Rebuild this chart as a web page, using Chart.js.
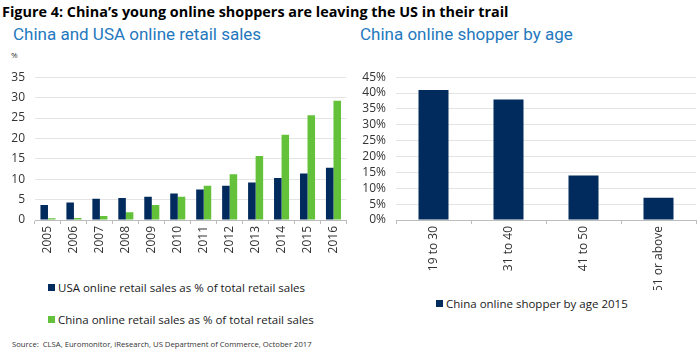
<!DOCTYPE html>
<html>
<head>
<meta charset="utf-8">
<script src="https://cdn.jsdelivr.net/npm/chart.js@4"></script>
<style>
  body { margin: 0; background: #fff; }
  #page { position: relative; width: 700px; height: 350px; overflow: hidden; font-family: "Open Sans", sans-serif; }
  .txt { position: absolute; white-space: nowrap; line-height: 1; }
  #title { left: 2px; top: 2px; font: bold 14.4px "Open Sans", sans-serif; color: #000; }
  .sub { top: 24px; font: 17px Roboto, sans-serif; color: #2478bd; }
  .leg { font-size: 11.5px; color: #1a1a1a; }
  .leg i { display: inline-block; width: 7px; height: 7px; margin-right: 3px; vertical-align: 1px; }
  .box { position: absolute; }
</style>
</head>
<body>
<div id="page">
  <div class="txt" id="title">Figure 4: China’s young online shoppers are leaving the US in their trail</div>
  <div class="txt sub" style="left:13px">China and USA online retail sales</div>
  <div class="txt sub" style="left:360px">China online shopper by age</div>
  <div class="txt" style="left:11px; top:51px; font-size:8px; color:#333">%</div>

  <div class="box" style="left:0; top:60px; width:350px; height:200px"><canvas id="salesChart" width="350" height="200"></canvas></div>
  <div class="box" style="left:350px; top:60px; width:350px; height:230px"><canvas id="ageChart" width="350" height="230"></canvas></div>

  <div class="txt leg" style="left:48px; top:282px"><i style="background:#002b5c"></i>USA online retail sales as % of total retail sales</div>
  <div class="txt leg" style="left:48px; top:314px"><i style="background:#64c23a"></i>China online retail sales as % of total retail sales</div>
  <div class="txt leg" style="left:436px; top:298px"><i style="background:#002b5c"></i>China online shopper by age 2015</div>

  <div class="txt" style="left:12px; top:341px; font-size:7.7px; color:#333">Source:&nbsp; CLSA, Euromonitor, iResearch, US Department of Commerce, October 2017</div>
</div>

<script>
// data
const years = ['2005', '2006', '2007', '2008', '2009', '2010', '2011', '2012', '2013', '2014', '2015', '2016'];
const usaShare = [3.7, 4.3, 5.2, 5.4, 5.7, 6.5, 7.5, 8.4, 9.2, 10.3, 11.4, 12.8];
const chinaShare = [0.4, 0.5, 1.0, 1.9, 3.7, 5.7, 8.4, 11.2, 15.7, 20.9, 25.7, 29.2];

const ageGroups = ['19 to 30', '31 to 40', '41 to 50', '51 or above'];
const shopperShare = [41, 38, 14, 7];

const salesMax = 35;
const ageMax = 45;

const NAVY = '#002b5c';
const GREEN = '#64c23a';
const GRID = '#e4e4e4';
const AXIS = '#bdbdbd';
const TEXT = '#333';

Chart.defaults.font.family = '"Open Sans", sans-serif';
Chart.defaults.color = TEXT;

function xAxis(height) {
    return {
        grid: { drawOnChartArea: false, drawTicks: true, tickLength: 4, color: AXIS },
        border: { color: AXIS },
        ticks: { minRotation: 90, maxRotation: 90, padding: 2, font: { size: 12 }, color: TEXT, autoSkip: false },
        afterFit(scale) { scale.height = height; }
    };
}

function yAxis(max, width, fmt) {
    return {
        min: 0,
        max: max,
        grid: { color: GRID, drawTicks: false },
        border: { display: false },
        ticks: { stepSize: 5, autoSkip: false, padding: 10, font: { size: 12 }, color: TEXT, callback: fmt },
        afterFit(scale) { scale.width = width; }
    };
}

new Chart(document.getElementById('salesChart'), {
    type: 'bar',
    data: {
        labels: years,
        datasets: [
            { label: 'USA online retail sales as % of total retail sales', data: usaShare, backgroundColor: NAVY, categoryPercentage: 0.58, barPercentage: 1.0 },
            { label: 'China online retail sales as % of total retail sales', data: chinaShare, backgroundColor: GREEN, categoryPercentage: 0.58, barPercentage: 1.0 }
        ]
    },
    options: {
        responsive: false,
        animation: false,
        layout: { padding: { top: 11, right: 3, left: 0, bottom: 0 } },
        plugins: { legend: { display: false }, tooltip: { enabled: false } },
        scales: {
            x: xAxis(40),
            y: yAxis(salesMax, 35, v => v)
        }
    }
});

new Chart(document.getElementById('ageChart'), {
    type: 'bar',
    data: {
        labels: ageGroups,
        datasets: [
            { label: 'China online shopper by age 2015', data: shopperShare, backgroundColor: NAVY, categoryPercentage: 1.0, barPercentage: 0.4 }
        ]
    },
    options: {
        responsive: false,
        animation: false,
        layout: { padding: { top: 11, right: 4, left: 0, bottom: 0 } },
        plugins: { legend: { display: false }, tooltip: { enabled: false } },
        scales: {
            x: xAxis(70),
            y: yAxis(ageMax, 46, v => v + '%')
        }
    }
});
</script>
</body>
</html>
